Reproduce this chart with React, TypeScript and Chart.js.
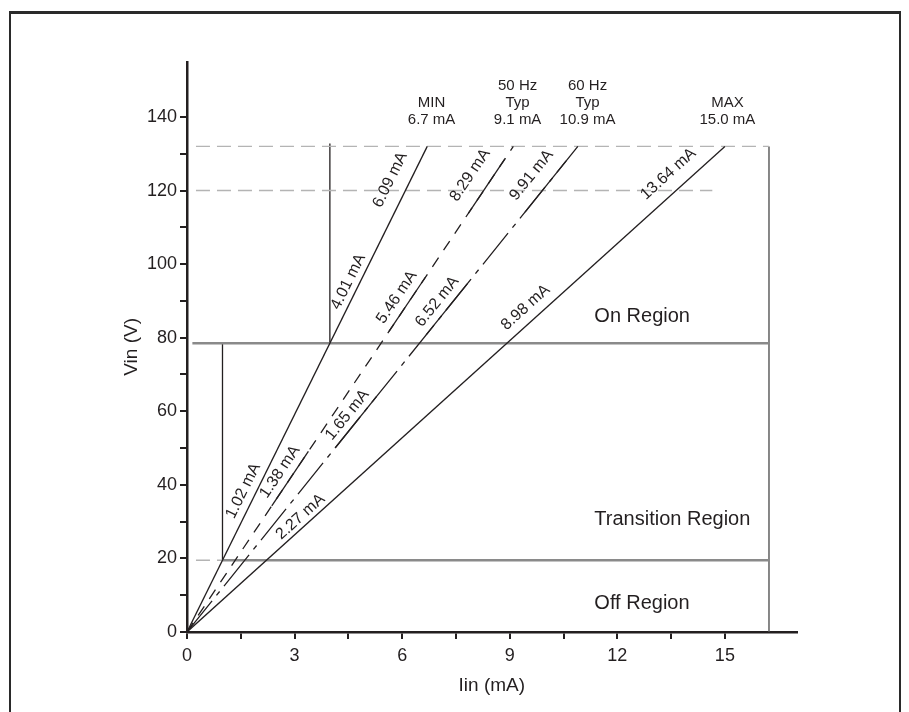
import React, { useEffect, useRef } from 'react';
import { Chart, registerables } from 'chart.js';

Chart.register(...registerables);

// ---- data -------------------------------------------------------------
const V_MAX = 132; // V, top of characteristic lines
const V_NOM = 120; // V, nominal line
const V_ON = 78.5; // V, on threshold
const V_OFF = 19.5; // V, off threshold
const I_BOX = 16.23; // mA, right edge of region box
const I_NOM_END = 14.65; // mA, end of 120 V guide
const GUIDE_START = 0.25; // mA, guides start just right of the axis

const curveEndCurrent = [6.7, 9.1, 10.9, 15.0]; // mA at V_MAX
const curveTopLabels = [
  ['MIN', '6.7 mA'],
  ['50 Hz', 'Typ', '9.1 mA'],
  ['60 Hz', 'Typ', '10.9 mA'],
  ['MAX', '15.0 mA'],
];
const curveTopLabelCurrent = [6.82, 9.22, 11.17, 15.07];
const curvePointLabels = [
  ['1.02 mA', '4.01 mA', '6.09 mA'],
  ['1.38 mA', '5.46 mA', '8.29 mA'],
  ['1.65 mA', '6.52 mA', '9.91 mA'],
  ['2.27 mA', '8.98 mA', '13.64 mA'],
];
// voltage along each curve where its labels sit
const curveLabelVolts = [
  [36.9, 93.9, 120.7],
  [41.7, 89.1, 121.2],
  [57.1, 87.7, 121.1],
  [29.4, 85.4, 121.0],
];
const curveDash: number[][] = [[], [11, 9], [40, 7, 5, 7], []];

const regionNames = ['On Region', 'Transition Region', 'Off Region'];
const regionVolts = [85.7, 30.7, 7.7];
const regionLeftCurrent = 11.36;

const X_MAX = 17;
const X_STEP = 1.5;
const X_LABEL_EVERY = 3;
const X_LAST_TICK = 16.5;
const Y_MAX = 155;
const Y_STEP = 10;
const Y_LABEL_EVERY = 20;
const Y_LAST_TICK = 140;

// ---- styles -----------------------------------------------------------
const FONT = '"Liberation Sans", Arial, Helvetica, sans-serif';
const INK = '#231f20';
const GRAY_SOLID = '#8a8a8a';
const GRAY_DASH = '#b4b4b4';
const labelOffsets = [
  [12.2, 10.8, 18.4],
  [12.2, 12.6, 19.9],
  [11.2, 12.2, 18.1],
  [9.4, 14, 17.4],
];

const seg = (x1: number, y1: number, x2: number, y2: number) => [
  { x: x1, y: y1 },
  { x: x2, y: y2 },
];

const annotate = {
  id: 'annotate',
  beforeDraw(chart: any) {
    const { ctx, width, height } = chart;
    ctx.save();
    ctx.fillStyle = '#fff';
    ctx.fillRect(0, 0, width, height);
    ctx.strokeStyle = '#2a2a2a';
    ctx.lineWidth = 2;
    ctx.beginPath();
    ctx.moveTo(2, height + 10);
    ctx.lineTo(2, 4.5);
    ctx.stroke();
    ctx.beginPath();
    ctx.moveTo(width - 1, 4.5);
    ctx.lineTo(width - 1, height + 10);
    ctx.stroke();
    ctx.lineWidth = 3;
    ctx.beginPath();
    ctx.moveTo(1, 4.5);
    ctx.lineTo(width, 4.5);
    ctx.stroke();
    ctx.restore();
  },
  afterDatasetsDraw(chart: any) {
    const { ctx } = chart;
    const xs = chart.scales.x;
    const ys = chart.scales.y;
    ctx.save();
    ctx.fillStyle = INK;
    const x0 = xs.getPixelForValue(0);
    const y0 = ys.getPixelForValue(0);
    curveEndCurrent.forEach((iEnd, k) => {
      const x1 = xs.getPixelForValue(iEnd);
      const y1 = ys.getPixelForValue(V_MAX);
      const ang = Math.atan2(y1 - y0, x1 - x0);
      const L = Math.hypot(x1 - x0, y1 - y0);
      ctx.font = `16px ${FONT}`;
      curvePointLabels[k].forEach((txt, j) => {
        const t = curveLabelVolts[k][j] / V_MAX;
        const px = x0 + (x1 - x0) * t;
        const py = y0 + (y1 - y0) * t;
        const w = ctx.measureText(txt).width;
        if (curveDash[k].length) {
          const dt = (w / 2 + 3) / L;
          const ta = Math.max(0, t - dt);
          const tb = Math.min(1, t + dt);
          ctx.save();
          ctx.strokeStyle = INK;
          ctx.lineWidth = 1.3;
          ctx.beginPath();
          ctx.moveTo(x0 + (x1 - x0) * ta, y0 + (y1 - y0) * ta);
          ctx.lineTo(x0 + (x1 - x0) * tb, y0 + (y1 - y0) * tb);
          ctx.stroke();
          ctx.restore();
        }
        ctx.save();
        ctx.translate(px, py);
        ctx.rotate(ang);
        ctx.textAlign = 'center';
        ctx.textBaseline = 'middle';
        ctx.fillText(txt, 0, -labelOffsets[k][j]);
        ctx.restore();
      });
      // label above the line end
      ctx.font = `15px ${FONT}`;
      ctx.textAlign = 'center';
      ctx.textBaseline = 'middle';
      const lines = curveTopLabels[k];
      const baseY = y1 - 26.4;
      const cx = xs.getPixelForValue(curveTopLabelCurrent[k]);
      lines.forEach((ln, m) => {
        ctx.fillText(ln, cx, baseY - (lines.length - 1 - m) * 17.3);
      });
    });
    ctx.font = `20px ${FONT}`;
    ctx.textAlign = 'left';
    ctx.textBaseline = 'middle';
    regionNames.forEach((nm, i) => {
      ctx.fillText(nm, xs.getPixelForValue(regionLeftCurrent), ys.getPixelForValue(regionVolts[i]));
    });
    ctx.restore();
  },
};

export default function App() {
  const ref = useRef<HTMLCanvasElement | null>(null);
  useEffect(() => {
    if (!ref.current) return;
    const minOn = (curveEndCurrent[0] * V_ON) / V_MAX;
    const minOff = (curveEndCurrent[0] * V_OFF) / V_MAX;
    const thin = { borderColor: INK, borderWidth: 1.3 };
    const datasets: any[] = [];
    curveEndCurrent.forEach((iEnd, k) => {
      datasets.push({
        data: seg(0, 0, iEnd, V_MAX),
        borderColor: INK,
        borderWidth: 1.3,
        borderDash: curveDash[k],
      });
    });
    datasets.push({ data: seg(GUIDE_START, V_MAX, I_BOX, V_MAX), borderColor: GRAY_DASH, borderWidth: 1.4, borderDash: [14, 7] });
    datasets.push({ data: seg(GUIDE_START, V_NOM, I_NOM_END, V_NOM), borderColor: GRAY_DASH, borderWidth: 1.4, borderDash: [14, 7] });
    datasets.push({ data: seg(GUIDE_START, V_OFF, minOff, V_OFF), borderColor: GRAY_DASH, borderWidth: 1.6, borderDash: [14, 7] });
    datasets.push({ data: seg(GUIDE_START * 0.6, V_ON, I_BOX, V_ON), borderColor: GRAY_SOLID, borderWidth: 2.4 });
    datasets.push({ data: seg(minOff, V_OFF, I_BOX, V_OFF), borderColor: GRAY_SOLID, borderWidth: 2.4 });
    datasets.push({ data: seg(I_BOX, 0, I_BOX, V_MAX), borderColor: '#555', borderWidth: 1.4 });
    datasets.push({ data: seg(minOn, V_ON, minOn, V_MAX + 0.8), ...thin });
    datasets.push({ data: seg(minOff, V_OFF, minOff, V_ON), ...thin });

    Chart.defaults.font.family = FONT;
    const chart = new Chart(ref.current, {
      type: 'scatter',
      data: { datasets: datasets.map((d) => ({ ...d, showLine: true, pointRadius: 0, fill: false, tension: 0 })) },
      plugins: [annotate],
      options: {
        animation: false,
        responsive: false,
        events: [],
        layout: { padding: { left: 105, right: 104.4, top: 53.8, bottom: 0 } },
        plugins: { legend: { display: false }, tooltip: { enabled: false } },
        scales: {
          x: {
            type: 'linear',
            min: 0,
            max: X_MAX,
            afterFit: (s: any) => { s.height = 80; },
            afterBuildTicks: (s: any) => { s.ticks = s.ticks.filter((t: any) => t.value <= X_LAST_TICK + 1e-6); },
            ticks: {
              stepSize: X_STEP,
              autoSkip: false,
              maxRotation: 0,
              padding: 6,
              color: INK,
              font: { size: 18 },
              callback: (v: any) => (Math.abs(v / X_LABEL_EVERY - Math.round(v / X_LABEL_EVERY)) < 1e-6 ? String(v) : ''),
            },
            grid: { drawOnChartArea: false, drawTicks: true, tickLength: 7, color: INK, lineWidth: 2 },
            border: { color: INK, width: 2.5 },
            title: { display: true, text: 'Iin (mA)', color: INK, font: { size: 19 }, padding: { top: 0, bottom: 14.6 } },
          },
          y: {
            type: 'linear',
            min: 0,
            max: Y_MAX,
            afterFit: (s: any) => { s.width = 74; },
            afterBuildTicks: (s: any) => { s.ticks = s.ticks.filter((t: any) => t.value <= Y_LAST_TICK + 1e-6); },
            ticks: {
              stepSize: Y_STEP,
              autoSkip: false,
              padding: 3,
              color: INK,
              font: { size: 18 },
              callback: (v: any) => (v % Y_LABEL_EVERY === 0 ? String(v) : ''),
            },
            grid: { drawOnChartArea: false, drawTicks: true, tickLength: 7, color: INK, lineWidth: 2 },
            border: { color: INK, width: 2.5 },
            title: { display: true, text: 'Vin (V)', color: INK, font: { size: 19 }, padding: { top: 7.6, bottom: 0 } },
          },
        },
      },
    });
    return () => chart.destroy();
  }, []);
  return (
    <div style={{ width: 893, height: 704, overflow: 'hidden' }}>
      <canvas ref={ref} width={893} height={704} style={{ display: 'block', width: 893, height: 704 }} />
    </div>
  );
}
